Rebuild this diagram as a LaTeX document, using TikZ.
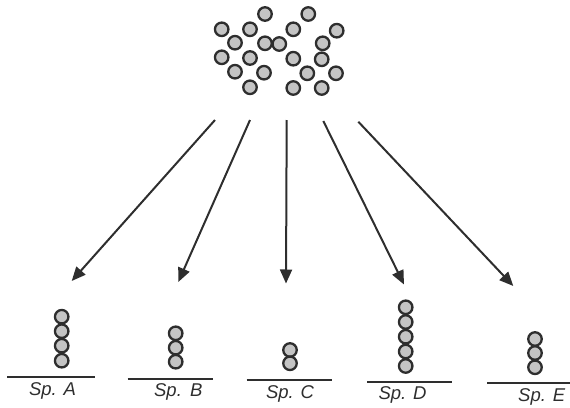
\documentclass[tikz,border=0pt]{standalone}
\usepackage{fontspec}
\setmainfont{Liberation Sans}
\usetikzlibrary{arrows.meta}
\definecolor{ink}{HTML}{2E2E2E}
\definecolor{ballfill}{HTML}{C4C4C4}
\tikzset{
  ball/.style={circle, draw=ink, fill=ballfill, line width=2.3pt, minimum size=13.5pt, inner sep=0pt},
  arr/.style={draw=ink, line width=2pt, -{Triangle[length=14pt,width=12pt]}},
  base/.style={draw=ink, line width=1.8pt},
  lab/.style={anchor=base, font=\fontsize{18.5}{20}\selectfont\itshape, text=ink}
}
\begin{document}
\begin{tikzpicture}[x=1pt,y=-1pt]
\useasboundingbox (0,0) rectangle (570,407);
% top cluster
\foreach \x/\y [count=\i] in {265/14,308.3/14,221.7/29.3,250/29.3,293.3/29.3,336.7/30.7,
  235/42.7,265/43.3,279.3/44,322.7/43.3,221.7/57.3,250/58,293.3/58.7,321.7/59.3,
  235/71.7,264/72.7,307.3/73.3,336/73.3,250/87.3,293.3/88,321.7/88}
  \node[ball] (t\i) at (\x,\y) {};
% arrows
\coordinate (s1) at (215,120);   \coordinate (e1) at (71.7,281);
\coordinate (s2) at (250,120);   \coordinate (e2) at (178.3,282);
\coordinate (s3) at (286.7,120); \coordinate (e3) at (286,283.5);
\coordinate (s4) at (323.3,121); \coordinate (e4) at (404,284.5);
\coordinate (s5) at (358.3,121.7); \coordinate (e5) at (513.3,286);
\foreach \i in {1,...,5} \draw[arr] (s\i) -- (e\i);
% Sp. A
\foreach \y [count=\i] in {316.7,331.2,345.7,360.7} \node[ball] (a\i) at (61.7,\y) {};
\coordinate (la) at (7,376.7); \coordinate (ra) at (95,376.7);
\draw[base] (la) -- (ra);
\node[lab] (na) at (52.5,395) {Sp. A};
% Sp. B
\foreach \y [count=\i] in {333.3,347.7,361.7} \node[ball] (b\i) at (175.7,\y) {};
\coordinate (lb) at (127.7,378.8); \coordinate (rb) at (213.3,378.8);
\draw[base] (lb) -- (rb);
\node[lab] (nb) at (178.3,396.7) {Sp.\ \,B};
% Sp. C
\foreach \y [count=\i] in {350,363.3} \node[ball] (c\i) at (290,\y) {};
\coordinate (lc) at (246.7,380); \coordinate (rc) at (331.7,380);
\draw[base] (lc) -- (rc);
\node[lab] (nc) at (290,398.3) {Sp. C};
% Sp. D
\foreach \y [count=\i] in {307.3,322,336.7,351.5,366} \node[ball] (d\i) at (405.7,\y) {};
\coordinate (ld) at (367.3,382); \coordinate (rd) at (451.7,382);
\draw[base] (ld) -- (rd);
\node[lab] (nd) at (402.5,399.3) {Sp. D};
% Sp. E
\foreach \y [count=\i] in {339,353,367.3} \node[ball] (e\i) at (535,\y) {};
\coordinate (le) at (487.3,382.7); \coordinate (re) at (570,382.7);
\draw[base] (le) -- (re);
\node[lab] (ne) at (541.7,401.7) {Sp. E};
\end{tikzpicture}
\end{document}
